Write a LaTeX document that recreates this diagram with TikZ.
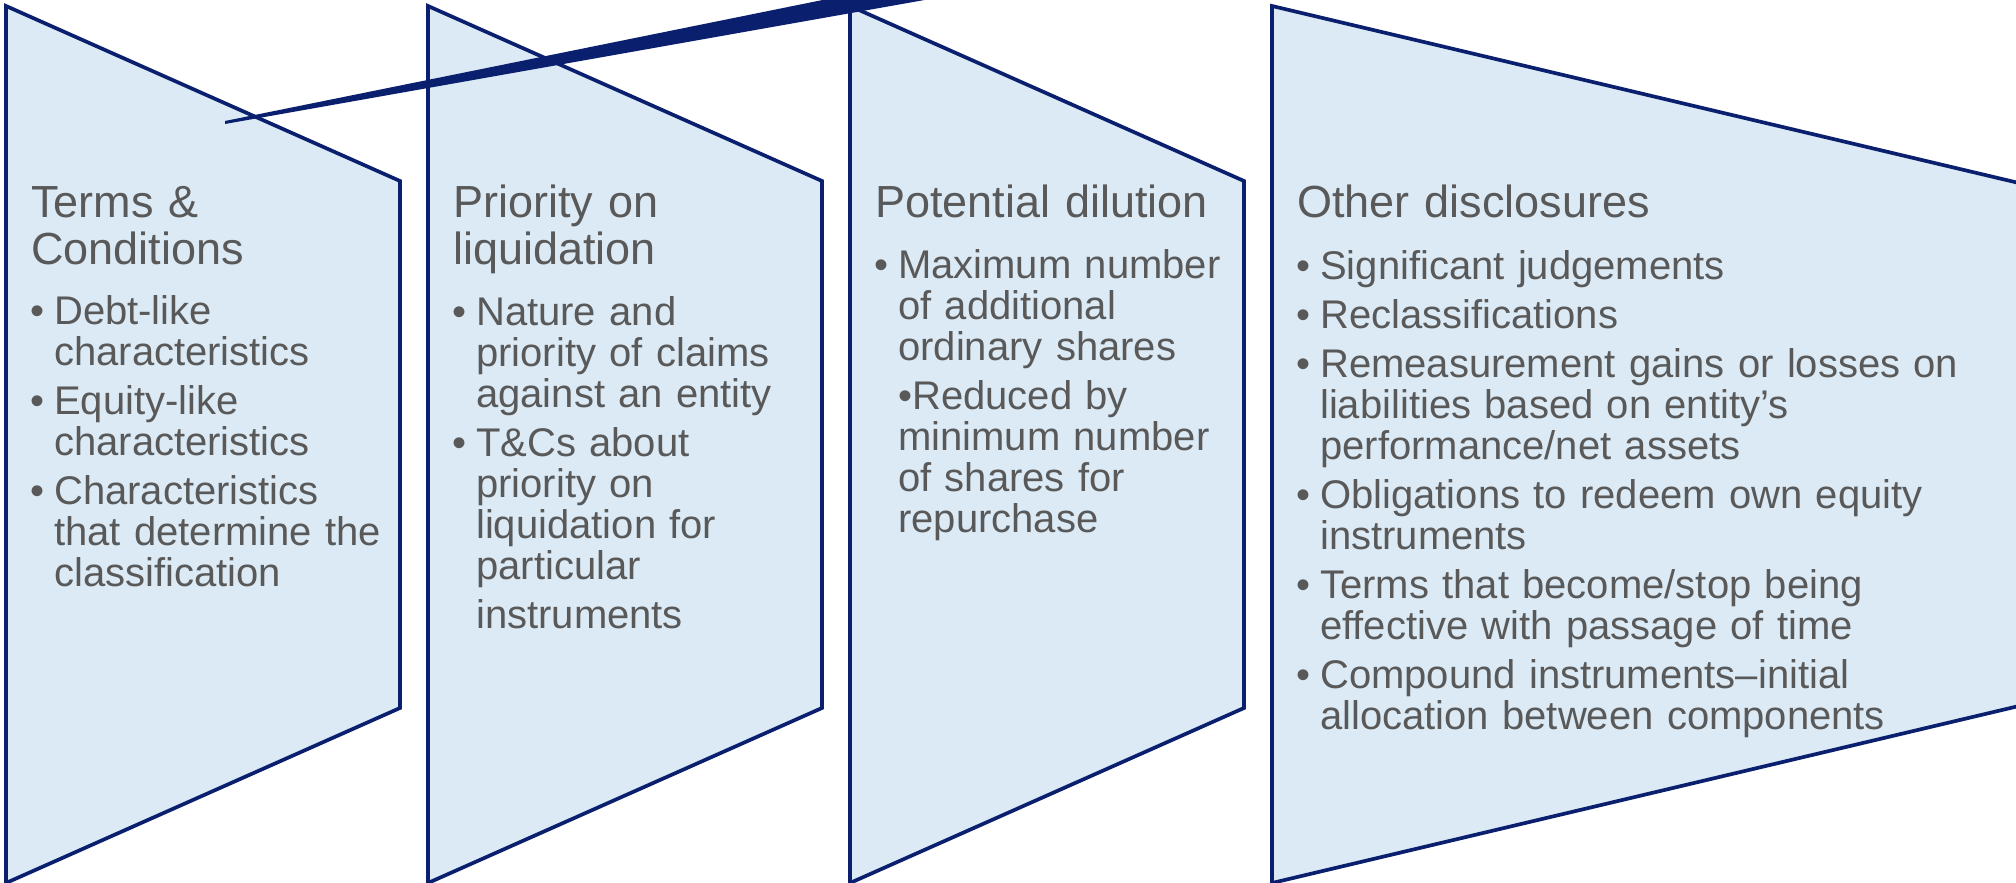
\documentclass[tikz,border=0pt]{standalone}
\usepackage{fontspec}
\setmainfont{Liberation Sans}
\usepackage{xcolor}
\definecolor{panelfill}{RGB}{219,234,245}
\definecolor{navy}{RGB}{10,31,110}
\definecolor{txtgray}{RGB}{89,89,89}
\tikzset{
	panel/.style = {draw = navy, fill = panelfill, line width = 1.05pt},
	ttl/.style = {anchor = base west, inner sep = 0pt, text width = 38mm, align = left, text = txtgray, font = \fontsize{4.5mm}{4.7mm}\selectfont},
	body/.style = {anchor = base west, inner sep = 0pt, text width = 38mm, align = left, text = txtgray, font = \fontsize{4mm}{4.1mm}\selectfont},
}
\newcommand{\bul}{\leavevmode\llap{\makebox[2.35mm][l]{\textbullet}}}

\begin{document}
\begin{tikzpicture}[x = 0.1mm, y = -0.1mm]
		\useasboundingbox (0, 0) rectangle (2016, 883);
		\clip (0, 0) rectangle (2016, 883);

		% chevron panels
		\foreach \px in {6, 428, 850}
			\draw [panel] (\px, 6) -- ++(394, 175) -- ++(0, 527) -- (\px, 883) -- cycle;
		\draw [panel] (1272, 6) -- (2040, 188) -- (2040, 701) -- (1272, 883) -- cycle;

		% tapered stroke across the top
		\fill [navy] (225, 121) -- (872, -10) -- (981, -10) -- (225, 124) -- cycle;

		\node [ttl] (terms) at (30.5, 218) {Terms \&\\Conditions};
		\node [body] (termsbody) at (53.5, 325) {\bul Debt-like\\characteristics\\[0.8mm]\bul Equity-like\\characteristics\\[0.8mm]\bul Characteristics\\that determine the\\classification};

		\node [ttl] (priority) at (452.5, 218) {Priority on\\liquidation};
		\node [body] (prioritybody) at (475.5, 326) {\bul Nature and\\priority of claims\\against an entity\\[0.8mm]\bul T\&Cs about\\priority on\\liquidation for\\particular\\[0.8mm]instruments};

		\node [ttl] (dilution) at (874.5, 218) {Potential dilution};
		\node [body] (dilutionbody) at (897.5, 279) {\bul Maximum number\\of additional\\ordinary shares\\[0.8mm]\textbullet Reduced by\\minimum number\\of shares for\\repurchase};

		\node [ttl] (other) at (1296.5, 218) {Other disclosures};
		\node [body, text width = 70mm] (otherbody) at (1319.5, 280) {\bul Significant judgements\\[0.8mm]\bul Reclassifications\\[0.8mm]\bul Remeasurement gains or losses on\\liabilities based on entity’s\\performance/net assets\\[0.8mm]\bul Obligations to redeem own equity\\instruments\\[0.8mm]\bul Terms that become/stop being\\effective with passage of time\\[0.8mm]\bul Compound instruments–initial\\allocation between components};
	\end{tikzpicture}
\end{document}
